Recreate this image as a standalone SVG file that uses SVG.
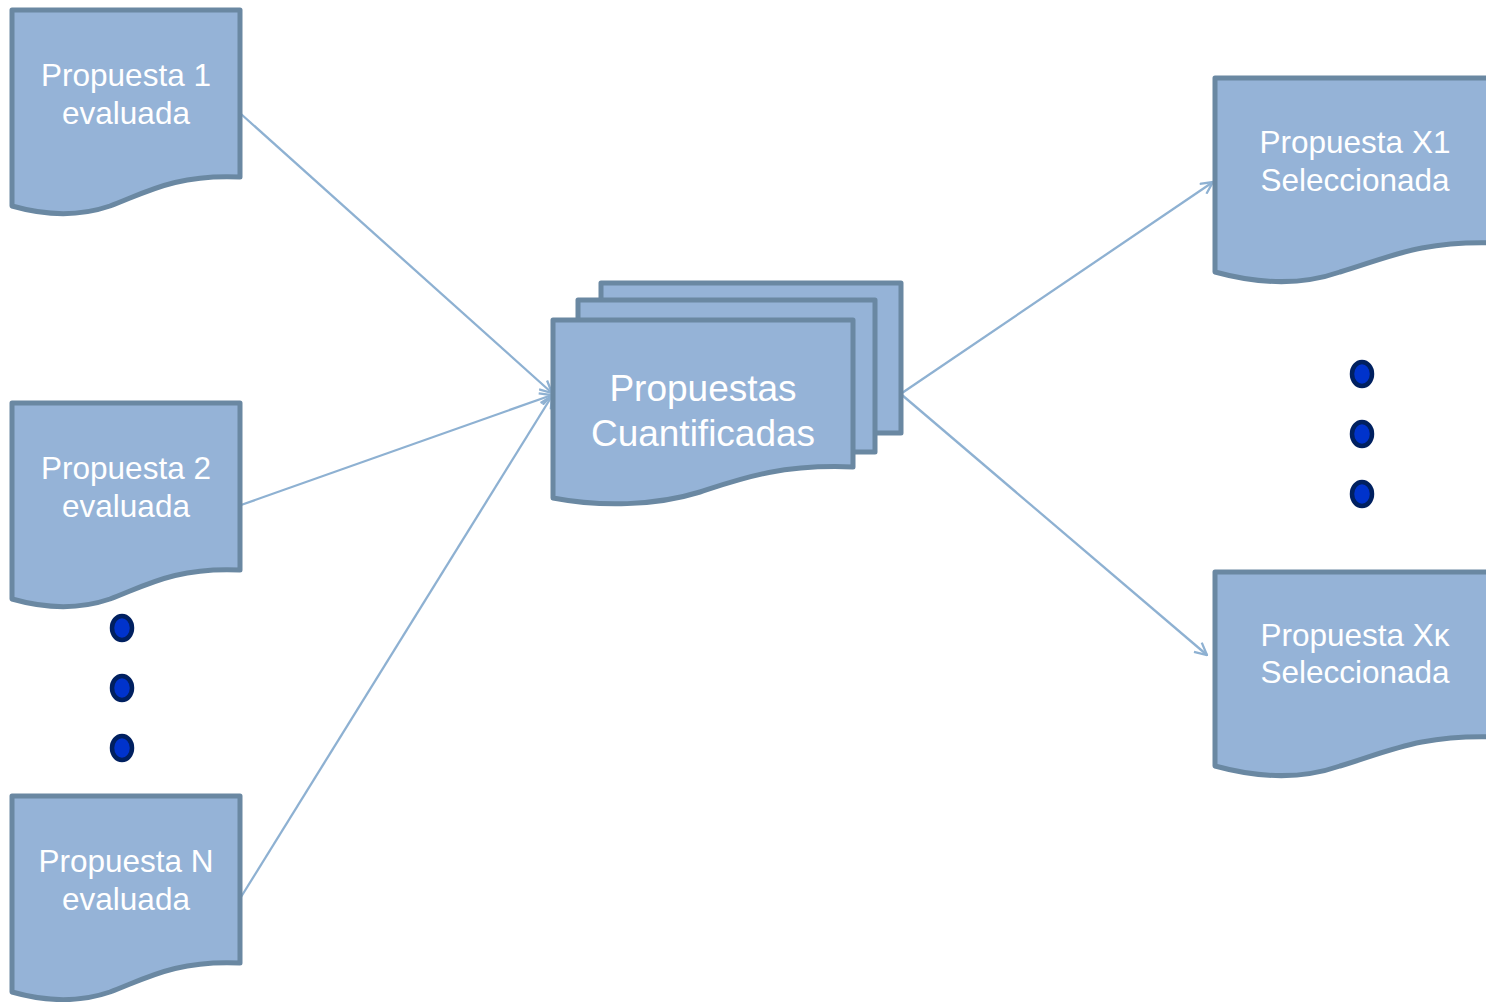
<svg xmlns="http://www.w3.org/2000/svg" width="1486" height="1002" viewBox="0 0 1486 1002">
<style>
.doc{fill:#95B3D7;stroke:#6A88A2;stroke-width:5;stroke-linejoin:round}
.t{fill:#FFFFFF;font-family:"Liberation Sans",Arial,sans-serif;font-size:31.5px;text-anchor:middle}
.tc{font-size:37px}
.con{stroke:#8EB1D2;stroke-width:2.3;fill:none;marker-end:url(#arr)}
.dot{fill:#0033CC;stroke:#002060;stroke-width:4.5}
</style>
<defs>
<marker id="arr" viewBox="0 0 14 14" refX="13" refY="7" markerWidth="14" markerHeight="14" markerUnits="userSpaceOnUse" orient="auto">
<path d="M1,1 L13,7 L1,13" fill="none" stroke="#8EB1D2" stroke-width="2.3"/>
</marker>
</defs>
<rect width="1486" height="1002" fill="#FFFFFF"/>
<g id="connectors">
<line class="con" x1="241" y1="114" x2="552" y2="393"/>
<line class="con" x1="241" y1="505" x2="552" y2="395"/>
<line class="con" x1="241" y1="897" x2="552" y2="396"/>
<line class="con" x1="902" y1="393" x2="1213" y2="182"/>
<line class="con" x1="902" y1="395" x2="1207" y2="655"/>
</g>
<g id="node-p1">
<path class="doc" d="M12,10 H240 V177 C175,174 145,193 110,206 C75,218 40,214 12,206 Z"/>
<text class="t" x="126" y="86">Propuesta 1</text>
<text class="t" x="126" y="124">evaluada</text>
</g>
<g id="node-p2">
<path class="doc" d="M12,403 H240 V570 C175,567 145,586 110,599 C75,611 40,607 12,599 Z"/>
<text class="t" x="126" y="479">Propuesta 2</text>
<text class="t" x="126" y="517">evaluada</text>
</g>
<g id="node-pn">
<path class="doc" d="M12,796 H240 V963 C175,960 145,979 110,992 C75,1004 40,1000 12,992 Z"/>
<text class="t" x="126" y="872">Propuesta N</text>
<text class="t" x="126" y="910">evaluada</text>
</g>
<g id="node-dots-left">
<ellipse class="dot" cx="122" cy="628" rx="10" ry="12"/>
<ellipse class="dot" cx="122" cy="688" rx="10" ry="12"/>
<ellipse class="dot" cx="122" cy="748" rx="10" ry="12"/>
</g>
<g id="node-center">
<rect class="doc" x="601" y="283" width="300" height="150"/>
<rect class="doc" x="578" y="300" width="297" height="152"/>
<path class="doc" d="M553,320 H853 V467 C780,464 740,479 700,492 C655,506 600,507 553,498 Z"/>
<text class="t tc" x="703" y="401">Propuestas</text>
<text class="t tc" x="703" y="446">Cuantificadas</text>
</g>
<g id="node-x1">
<path class="doc" d="M1215,78 H1497 V243 C1420,240 1385,259 1340,272 C1300,286 1255,283 1215,272 Z"/>
<text class="t" x="1355" y="153">Propuesta X1</text>
<text class="t" x="1355" y="191">Seleccionada</text>
</g>
<g id="node-dots-right">
<ellipse class="dot" cx="1362" cy="374" rx="10" ry="12"/>
<ellipse class="dot" cx="1362" cy="434" rx="10" ry="12"/>
<ellipse class="dot" cx="1362" cy="494" rx="10" ry="12"/>
</g>
<g id="node-xk">
<path class="doc" d="M1215,572 H1497 V737 C1420,734 1385,753 1340,766 C1300,780 1255,777 1215,766 Z"/>
<text class="t" x="1355" y="646">Propuesta Xκ</text>
<text class="t" x="1355" y="683">Seleccionada</text>
</g>
</svg>
